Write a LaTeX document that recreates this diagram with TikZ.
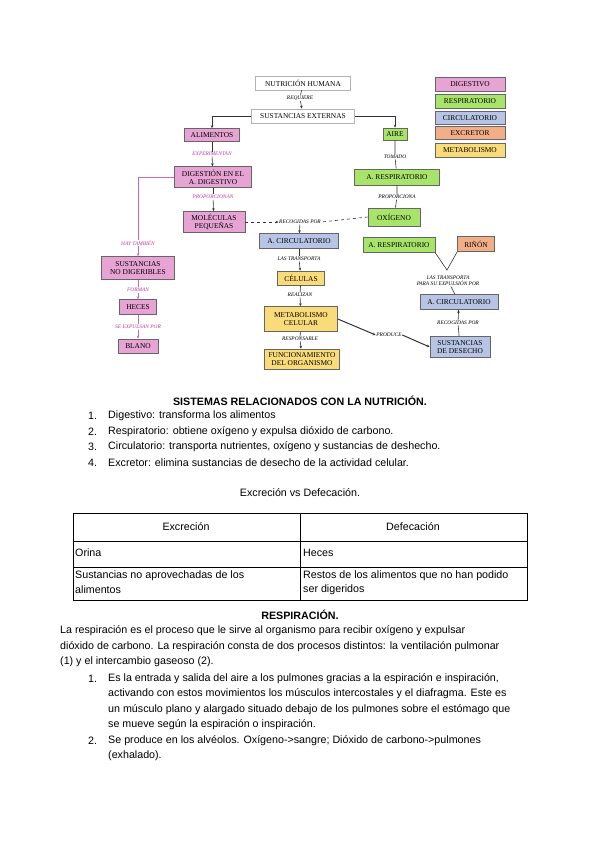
\documentclass[tikz,border=0pt]{standalone}
\usepackage{fontspec}
\setmainfont{Liberation Serif}
\newfontfamily\arialfont{Liberation Sans}
\usetikzlibrary{arrows.meta}

\definecolor{digpink}{HTML}{E6A3D3}
\definecolor{respgreen}{HTML}{A8E36A}
\definecolor{circblue}{HTML}{B7C4E6}
\definecolor{excorange}{HTML}{F2AE86}
\definecolor{metyellow}{HTML}{FADB7A}
\definecolor{pinkline}{HTML}{D067AE}
\definecolor{pinktext}{HTML}{C0399A}

\tikzset{
  box/.style={draw=gray!80!black, line width=0.6pt, align=center, inner sep=1pt,
    font=\fontsize{7.4}{8.2}\selectfont},
  plainbox/.style={box, draw=gray!60, fill=white},
  digbox/.style={box, fill=digpink},
  respbox/.style={box, fill=respgreen},
  circbox/.style={box, fill=circblue},
  excbox/.style={box, fill=excorange},
  metbox/.style={box, fill=metyellow},
  lbl/.style={font=\fontsize{5.4}{6}\selectfont\itshape, inner sep=0.5pt, fill=white, align=center},
  pinklbl/.style={lbl, text=pinktext},
  con/.style={line width=0.6pt, draw=black!80},
  pinkcon/.style={line width=0.8pt, draw=pinkline},
  body/.style={font=\arialfont\fontsize{10.7}{12}\selectfont, inner sep=0pt, anchor=west},
  >={Stealth[length=3pt,width=2.5pt]}
}

\begin{document}
\begin{tikzpicture}[x=1pt,y=-1pt]
\useasboundingbox[fill=white] (0,0) rectangle (600,848);

% boxes
\node[plainbox, minimum width=95, minimum height=14] (nh) at (303,83) {NUTRICIÓN HUMANA};
\node[plainbox, minimum width=103, minimum height=14] (se) at (303,116) {SUSTANCIAS EXTERNAS};
\node[digbox, minimum width=55, minimum height=13] (ali) at (212,135) {ALIMENTOS};
\node[digbox, minimum width=77, minimum height=21] (dig) at (213,177) {DIGESTIÓN EN EL\\A. DIGESTIVO};
\node[digbox, minimum width=62, minimum height=21] (mol) at (214,222) {MOLÉCULAS\\PEQUEÑAS};
\node[digbox, minimum width=73, minimum height=23] (snd) at (138,268) {SUSTANCIAS\\NO DIGERIBLES};
\node[digbox, minimum width=37, minimum height=15] (hec) at (138,307) {HECES};
\node[digbox, minimum width=40, minimum height=14] (ano) at (138,346) {BLANO};
\node[respbox, minimum width=24, minimum height=12] (aire) at (395,134) {AIRE};
\node[respbox, minimum width=85, minimum height=16] (resp) at (397,177) {A. RESPIRATORIO};
\node[respbox, minimum width=52, minimum height=18] (oxi) at (394,217) {OXÍGENO};
\node[circbox, minimum width=79, minimum height=15] (circ) at (299,241) {A. CIRCULATORIO};
\node[metbox, minimum width=47, minimum height=14] (cel) at (301,278) {CÉLULAS};
\node[metbox, minimum width=73, minimum height=25] (met) at (301,319) {METABOLISMO\\CELULAR};
\node[metbox, minimum width=75, minimum height=20] (fun) at (302,359) {FUNCIONAMIENTO\\DEL ORGANISMO};
\node[respbox, minimum width=72, minimum height=15] (resp2) at (399,245) {A. RESPIRATORIO};
\node[excbox, minimum width=37, minimum height=15] (rin) at (476,244) {RIÑÓN};
\node[circbox, minimum width=78, minimum height=15] (circ2) at (459,302) {A. CIRCULATORIO};
\node[circbox, minimum width=60, minimum height=21] (sdd) at (460,347) {SUSTANCIAS\\DE DESECHO};

% legend
\node[digbox, minimum width=70, minimum height=14] (ldig) at (470,84) {DIGESTIVO};
\node[respbox, minimum width=70, minimum height=14] (lresp) at (470,101) {RESPIRATORIO};
\node[circbox, minimum width=70, minimum height=13] (lcirc) at (470,118) {CIRCULATORIO};
\node[excbox, minimum width=70, minimum height=13] (lexc) at (470,133) {EXCRETOR};
\node[metbox, minimum width=70, minimum height=14] (lmet) at (470,150) {METABOLISMO};

% link labels
\node[lbl] (lreq) at (300,98) {REQUIERE};
\node[pinklbl] (lexp) at (212,154) {EXPERIMENTAN};
\node[pinklbl] (lprop) at (213,197) {PROPORCIONAN};
\node[pinklbl] (lhay) at (138,243) {HAY TAMBIÉN};
\node[pinklbl] (lfor) at (138,290) {FORMAN};
\node[pinklbl] (lsex) at (138,327) {SE EXPULSAN POR};
\node[lbl] (ltom) at (395,157) {TOMADO};
\node[lbl] (lpro) at (397,197) {PROPORCIONA};
\node[lbl] (lrec) at (300,222) {RECOGIDAS POR};
\node[lbl] (ltra) at (299,259) {LAS TRANSPORTA};
\node[lbl] (lrea) at (300,295) {REALIZAN};
\node[lbl] (lres) at (300,339) {RESPONSABLE};
\node[lbl] (lprd) at (389,335) {PRODUCE};
\node[lbl] (lrec2) at (458,323) {RECOGIDAS POR};
\node[lbl] (lexl) at (448,281) {LAS TRANSPORTA\\PARA SU EXPULSIÓN POR};
\coordinate (jn) at (447,270);

% connectors
\draw[con] (nh) -- (lreq);
\draw[con,->] (lreq) -- (se);
\draw[con,->] (se.west) -| (ali.north);
\draw[con,->] (se.east) -| (aire.north);
\draw[con] (ali) -- (lexp);
\draw[con,->] (lexp) -- (dig);
\draw[con] (dig) -- (lprop);
\draw[con,->] (lprop) -- (mol);
\draw[pinkcon] (dig.west) -| (lhay.north);
\draw[pinkcon,->] (lhay) -- (snd);
\draw[pinkcon] (snd) -- (lfor);
\draw[pinkcon,->] (lfor) -- (hec);
\draw[pinkcon] (hec) -- (lsex);
\draw[pinkcon,->] (lsex) -- (ano);
\draw[con] (aire) -- (ltom) -- (resp);
\draw[con] (resp) -- (lpro) -- (oxi);
\draw[con,dashed,->] (mol.east) -- (lrec.west);
\draw[con,dashed] (oxi.west) -- (lrec.east);
\draw[con,->] (lrec) -- (circ);
\draw[con] (circ) -- (ltra);
\draw[con,->] (ltra) -- (cel);
\draw[con] (cel) -- (lrea);
\draw[con,->] (lrea) -- (met);
\draw[con] (met) -- (lres);
\draw[con,->] (lres) -- (fun);
\draw[con,line width=1pt,->] (met.east) -- (lprd.west);
\draw[con,line width=1pt,->] (lprd.east) -- (sdd.west);
\draw[con] (sdd) -- (lrec2);
\draw[con,->] (lrec2) -- (circ2);
\draw[con] (circ2) -- (lexl);
\draw[con] (resp2.south east) -- (jn) -- (rin.south west);

% text
\node[body, font=\arialfont\bfseries\fontsize{10.7}{12}\selectfont, anchor=center] (t0) at (300,401) {SISTEMAS RELACIONADOS CON LA NUTRICIÓN.};
\node[body] (n1) at (88,416) {1.};
\node[body] (t1) at (108,416) {Digestivo: transforma los alimentos};
\node[body] (n2) at (88,432) {2.};
\node[body] (t2) at (108,432) {Respiratorio: obtiene oxígeno y expulsa dióxido de carbono.};
\node[body] (n3) at (88,447) {3.};
\node[body] (t3) at (108,447) {Circulatorio: transporta nutrientes, oxígeno y sustancias de deshecho.};
\node[body] (n4) at (88,463) {4.};
\node[body] (t4) at (108,463) {Excretor: elimina sustancias de desecho de la actividad celular.};
\node[body, anchor=center] (tv) at (300,493) {Excreción vs Defecación.};

% table
\draw[line width=0.8pt] (73,513) rectangle (527,600);
\draw[line width=0.6pt] (73,541) -- (527,541);
\draw[line width=0.6pt] (73,567) -- (527,567);
\draw[line width=0.6pt] (300,513) -- (300,600);
\node[body, anchor=center] (h1) at (186,527) {Excreción};
\node[body, anchor=center] (h2) at (413,527) {Defecación};
\node[body] (c1) at (75,553) {Orina};
\node[body] (c2) at (303,553) {Heces};
\node[body] (c3) at (75,576) {Sustancias no aprovechadas de los};
\node[body] (c3b) at (75,590) {alimentos};
\node[body] (c4) at (303,576) {Restos de los alimentos que no han podido};
\node[body] (c4b) at (303,590) {ser digeridos};

\node[body, font=\arialfont\bfseries\fontsize{10.7}{12}\selectfont, anchor=center] (r0) at (300,615) {RESPIRACIÓN.};
\node[body] (p1) at (60,631) {La respiración es el proceso que le sirve al organismo para recibir oxígeno y expulsar};
\node[body] (p2) at (60,647) {dióxido de carbono. La respiración consta de dos procesos distintos: la ventilación pulmonar};
\node[body] (p3) at (60,662) {(1) y el intercambio gaseoso (2).};
\node[body] (m1) at (88,679) {1.};
\node[body] (q1) at (108,679) {Es la entrada y salida del aire a los pulmones gracias a la espiración e inspiración,};
\node[body] (q2) at (108,694) {activando con estos movimientos los músculos intercostales y el diafragma. Este es};
\node[body] (q3) at (108,710) {un músculo plano y alargado situado debajo de los pulmones sobre el estómago que};
\node[body] (q4) at (108,725) {se mueve según la espiración o inspiración.};
\node[body] (m2) at (88,741) {2.};
\node[body] (q5) at (108,741) {Se produce en los alvéolos. Oxígeno->sangre; Dióxido de carbono->pulmones};
\node[body] (q6) at (108,756) {(exhalado).};
\end{tikzpicture}
\end{document}
